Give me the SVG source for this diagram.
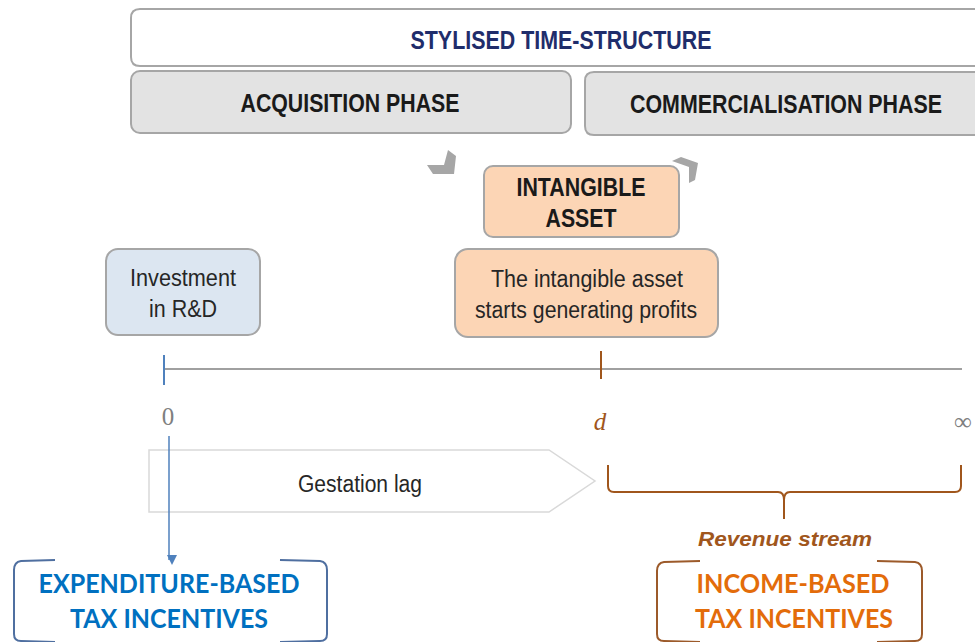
<svg xmlns="http://www.w3.org/2000/svg" width="975" height="642" viewBox="0 0 975 642">
<defs>
<style>
.box{stroke:#a6a6a6;stroke-width:2}
.hdr{font-family:"Liberation Sans",Arial,sans-serif;font-weight:bold;font-size:25px;text-anchor:middle}
.lbl{font-family:"Liberation Sans",Arial,sans-serif;font-size:23px;fill:#262626;text-anchor:middle}
.tax{font-family:Lato,"Liberation Sans",sans-serif;font-weight:bold;font-size:27px;text-anchor:middle}
.math{font-family:"Liberation Serif","DejaVu Serif",serif;font-size:25px;text-anchor:middle}
</style>
<marker id="arrB" markerWidth="10" markerHeight="10" refX="5" refY="8" orient="auto" markerUnits="userSpaceOnUse" viewBox="0 0 10 10">
<path d="M0,0 L10,0 L5,10 Z" fill="#4f81bd" transform="rotate(-90 5 5)"/>
</marker>
</defs>
<rect width="975" height="642" fill="#ffffff"/>

<g id="title">
<path class="box" d="M975,9 L140,9 Q131,9 131,18 L131,57 Q131,66 140,66 L975,66" fill="#ffffff"/>
<text class="hdr" x="561" y="49" fill="#1f2d6b" textLength="301" lengthAdjust="spacingAndGlyphs">STYLISED TIME-STRUCTURE</text>
</g>
<g id="acquisition">
<rect class="box" x="131" y="71" width="440" height="62" rx="9" fill="#e3e3e3"/>
<text class="hdr" x="350" y="112" fill="#1a1a1a" textLength="219" lengthAdjust="spacingAndGlyphs">ACQUISITION PHASE</text>
</g>
<g id="commercialisation">
<path class="box" d="M975,72 L594,72 Q585,72 585,81 L585,126 Q585,135 594,135 L975,135" fill="#e3e3e3"/>
<text class="hdr" x="786" y="113" fill="#1a1a1a" textLength="312" lengthAdjust="spacingAndGlyphs">COMMERCIALISATION PHASE</text>
</g>

<g id="chevrons" fill="#a6a6a6">
<polygon points="427,165 444,165 448,150 456,156 454,174 433,174"/>
<polygon points="672,161 681,157 698,163 695,180 689,183 689,167"/>
</g>

<g id="intangible">
<rect class="box" x="484" y="166" width="195" height="71" rx="9" fill="#fcd5b5"/>
<text class="hdr" x="581" y="196" fill="#1a1a1a" textLength="129" lengthAdjust="spacingAndGlyphs">INTANGIBLE</text>
<text class="hdr" x="581" y="227" fill="#1a1a1a" textLength="71" lengthAdjust="spacingAndGlyphs">ASSET</text>
</g>

<g id="investment">
<rect class="box" x="106" y="249" width="154" height="86" rx="12" fill="#dce6f1"/>
<text class="lbl" x="183" y="286" textLength="106" lengthAdjust="spacingAndGlyphs">Investment</text>
<text class="lbl" x="183" y="317" textLength="68" lengthAdjust="spacingAndGlyphs">in R&amp;D</text>
</g>

<g id="profits">
<rect class="box" x="455" y="249" width="263" height="88" rx="13" fill="#fcd5b5"/>
<text class="lbl" x="587" y="287" textLength="192" lengthAdjust="spacingAndGlyphs">The intangible asset</text>
<text class="lbl" x="586" y="318" textLength="222" lengthAdjust="spacingAndGlyphs">starts generating profits</text>
</g>

<g id="gestation">
<polygon points="149,450 549,450 595,481 549,512 149,512" fill="#ffffff" stroke="#d9d9d9" stroke-width="1.5"/>
<text class="lbl" x="360" y="492" textLength="124" lengthAdjust="spacingAndGlyphs">Gestation lag</text>
</g>

<g id="connectors">
<line x1="164" y1="369" x2="962" y2="369" stroke="#808080" stroke-width="1.5"/>
<line x1="164" y1="355" x2="164" y2="385" stroke="#4f81bd" stroke-width="2"/>
<line x1="601" y1="351" x2="601" y2="379" stroke="#a0561c" stroke-width="2"/>
<line x1="169" y1="436" x2="169" y2="560" stroke="#4f81bd" stroke-width="1.5" marker-end="url(#arrB)"/>
<path d="M608,465 L608,486 Q608,492 614,492 L778,492 Q784,492 784,500 L784,519 M784,500 Q784,492 790,492 L955,492 Q961,492 961,486 L961,465" fill="none" stroke="#a0561c" stroke-width="2"/>
</g>

<g id="axis-labels">
<text class="math" x="168" y="425" fill="#7f7f7f">0</text>
<text class="math" x="600" y="430" fill="#a0561c" font-style="italic">d</text>
<text class="math" x="963" y="430" fill="#7f7f7f">∞</text>
</g>

<g id="revenue">
<text x="785" y="546" font-family="'Liberation Sans',Arial,sans-serif" font-weight="bold" font-style="italic" font-size="21" fill="#a0561c" text-anchor="middle" textLength="174" lengthAdjust="spacingAndGlyphs">Revenue stream</text>
</g>

<g id="expenditure">
<path d="M55,560 L21,561 Q14,562 14,570 L14,634 Q14,641 21,641 L55,642" fill="none" stroke="#4f6fa0" stroke-width="2"/>
<path d="M280,560 L320,561 Q327,562 327,570 L327,634 Q327,641 320,641 L280,642" fill="none" stroke="#4f6fa0" stroke-width="2"/>
<text class="tax" x="169" y="593" fill="#0070c0" textLength="261" lengthAdjust="spacingAndGlyphs">EXPENDITURE-BASED</text>
<text class="tax" x="169" y="628" fill="#0070c0" textLength="198" lengthAdjust="spacingAndGlyphs">TAX INCENTIVES</text>
</g>

<g id="income">
<path d="M700,561 L664,562 Q657,563 657,571 L657,634 Q657,641 664,641 L700,642" fill="none" stroke="#9c5a2a" stroke-width="2"/>
<path d="M877,561 L915,562 Q922,563 922,571 L922,634 Q922,641 915,641 L877,642" fill="none" stroke="#9c5a2a" stroke-width="2"/>
<text class="tax" x="793" y="593" fill="#e36c0a" textLength="193" lengthAdjust="spacingAndGlyphs">INCOME-BASED</text>
<text class="tax" x="794" y="628" fill="#e36c0a" textLength="198" lengthAdjust="spacingAndGlyphs">TAX INCENTIVES</text>
</g>
</svg>
